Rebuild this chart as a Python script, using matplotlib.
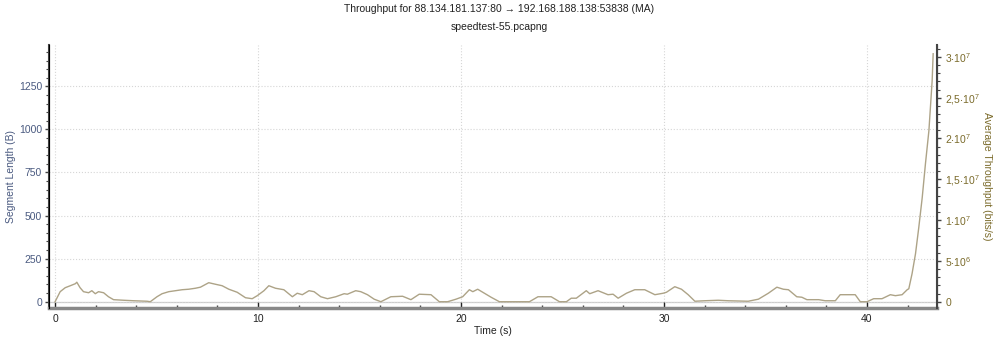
import numpy as np
import matplotlib
matplotlib.use("Agg")
from matplotlib import pyplot as plt
from matplotlib.ticker import MultipleLocator, FuncFormatter

plt.rcParams['font.family'] = ['Liberation Sans', 'DejaVu Sans']
plt.rcParams['mathtext.default'] = 'regular'

# time (s) and moving-average throughput (Mbit/s)
time_s = [0.0, 0.25, 0.5, 0.75, 1.0, 1.07, 1.23, 1.4, 1.65, 1.81, 1.98, 2.14, 2.39, 2.63,
          2.88, 3.37, 3.87, 4.53, 4.69, 5.02, 5.27, 5.6, 5.93, 6.26, 6.58, 6.91, 7.16,
          7.57, 7.9, 8.23, 8.56, 8.97, 9.38, 9.71, 9.96, 10.29, 10.53, 10.86, 11.27,
          11.69, 11.93, 12.18, 12.51, 12.76, 13.09, 13.42, 13.83, 14.24, 14.4, 14.81,
          15.06, 15.39, 15.72, 16.05, 16.54, 17.12, 17.53, 17.94, 18.52, 18.93, 19.34,
          19.75, 20.08, 20.41, 20.58, 20.82, 21.15, 21.48, 21.89, 23.37, 23.79, 24.44,
          24.85, 25.19, 25.43, 25.68, 26.17, 26.34, 26.75, 27.24, 27.49, 27.74, 28.15,
          28.56, 29.05, 29.55, 29.96, 30.12, 30.53, 30.86, 31.19, 31.52, 32.01, 32.67,
          33.16, 34.15, 34.65, 35.14, 35.56, 35.88, 36.13, 36.54, 36.79, 37.04, 37.62,
          37.94, 38.44, 38.68, 39.42, 39.67, 40.0, 40.33, 40.74, 41.15, 41.4, 41.73,
          41.98, 42.06, 42.22, 42.39, 42.55, 42.72, 42.88, 43.05, 43.21, 43.26]
throughput_mbps = [0, 1.23, 1.72, 1.96, 2.21, 2.39, 1.72, 1.23, 1.10, 1.35, 0.98, 1.23, 1.10, 0.61,
                   0.25, 0.18, 0.12, 0.06, 0, 0.61, 0.98, 1.23, 1.35, 1.47, 1.53, 1.65, 1.78,
                   2.33, 2.14, 1.96, 1.53, 1.16, 0.49, 0.37, 0.74, 1.35, 1.96, 1.65, 1.47,
                   0.61, 1.04, 0.86, 1.35, 1.23, 0.61, 0.37, 0.61, 0.98, 0.92, 1.35,
                   1.23, 0.86, 0.31, 0, 0.61, 0.67, 0.25, 0.92, 0.86, 0, 0,
                   0.31, 0.61, 1.47, 1.23, 1.53, 1.04, 0.55, 0, 0, 0.61, 0.61,
                   0, 0, 0.43, 0.43, 1.35, 0.98, 1.35, 0.86, 0.92, 0.43, 1.04,
                   1.47, 1.47, 0.86, 1.04, 1.16, 1.84, 1.53, 0.86, 0.06, 0.12, 0.18,
                   0.12, 0.06, 0.31, 1.04, 1.78, 1.53, 1.47, 0.61, 0.55, 0.25, 0.25,
                   0.12, 0.12, 0.86, 0.86, 0, 0, 0.37, 0.37, 0.86, 0.74, 0.86,
                   1.47, 1.59, 3.43, 5.88, 9.07, 12.74, 16.91, 20.95, 27.07, 30.38]

title = "Throughput for 88.134.181.137:80 \u2192 192.168.188.138:53838 (MA)"
subtitle = "speedtest-55.pcapng"

left_col = "#4a5a80"
right_col = "#7b6b2b"
line_col = "#ada387"
fs = 7.5

fig = plt.figure(figsize=(9.98, 3.4), dpi=100)
ax = fig.add_axes([0.0491, 0.0941, 0.8898, 0.7735])
ax2 = ax.twinx()

ax.set_xlim(-0.3, 43.45)
ax.set_ylim(-37, 1490)
ax2.set_ylim(-7.7e5, 3.145e7)

ax.axhline(0, color="#cccccc", lw=0.9, zorder=1)
ax2.plot(time_s, np.array(throughput_mbps) * 1e6, color=line_col, lw=1.0)

ax.grid(True, which="major", color="#d6d6d6", ls=":", lw=0.8)
ax.xaxis.set_major_locator(MultipleLocator(10))
ax.xaxis.set_minor_locator(MultipleLocator(2))
ax.yaxis.set_major_locator(MultipleLocator(250))
ax.yaxis.set_minor_locator(MultipleLocator(50))
ax2.yaxis.set_major_locator(MultipleLocator(5e6))
ax2.yaxis.set_minor_locator(MultipleLocator(1e6))


def sci_fmt(v, pos):
    if v == 0:
        return "0"
    exp = int(np.floor(np.log10(abs(v))))
    mant = v / 10 ** exp
    m = ("%g" % mant).replace(".", "{,}")
    return r"$%s{\cdot}10^{%d}$" % (m, exp)


ax2.yaxis.set_major_formatter(FuncFormatter(sci_fmt))

ax.spines["top"].set_visible(False)
ax2.spines["top"].set_visible(False)
ax.spines["left"].set_color("#444444")
ax.spines["left"].set_linewidth(1.5)
ax2.spines["right"].set_color("#444444")
ax2.spines["right"].set_linewidth(1.5)
ax.spines["bottom"].set_color("#888888")
ax.spines["bottom"].set_linewidth(2.5)
ax2.spines["bottom"].set_visible(False)

ax.tick_params(axis="x", direction="in", length=4, width=1, colors="#222222", labelsize=fs, pad=4)
ax.tick_params(axis="x", which="minor", direction="in", length=2.5, width=1, color="#444444")
ax.tick_params(axis="y", direction="out", length=3, width=1, color="#444444", labelcolor=left_col, labelsize=fs, pad=2)
ax.tick_params(axis="y", which="minor", direction="out", length=2, width=0.8, color="#444444")
ax2.tick_params(axis="y", direction="out", length=3, width=1, color="#444444", labelcolor=right_col, labelsize=fs, pad=3)
ax2.tick_params(axis="y", which="minor", direction="out", length=2, width=0.8, color="#444444")

ax.set_xlabel("Time (s)", fontsize=fs, color="#222222", labelpad=2)
ax.set_ylabel("Segment Length (B)", fontsize=fs, color=left_col)
ax.yaxis.set_label_coords(-0.037, 0.5)
ax2.set_ylabel("Average Throughput (bits/s)", fontsize=fs, color=right_col, rotation=270, va="center")
ax2.yaxis.set_label_coords(1.0565, 0.5)

fig.text(0.5, 0.975, title, ha="center", va="center", fontsize=fs, color="#222222")
fig.text(0.5, 0.922, subtitle, ha="center", va="center", fontsize=fs, color="#222222")

fig.savefig("out.png", dpi=100)
